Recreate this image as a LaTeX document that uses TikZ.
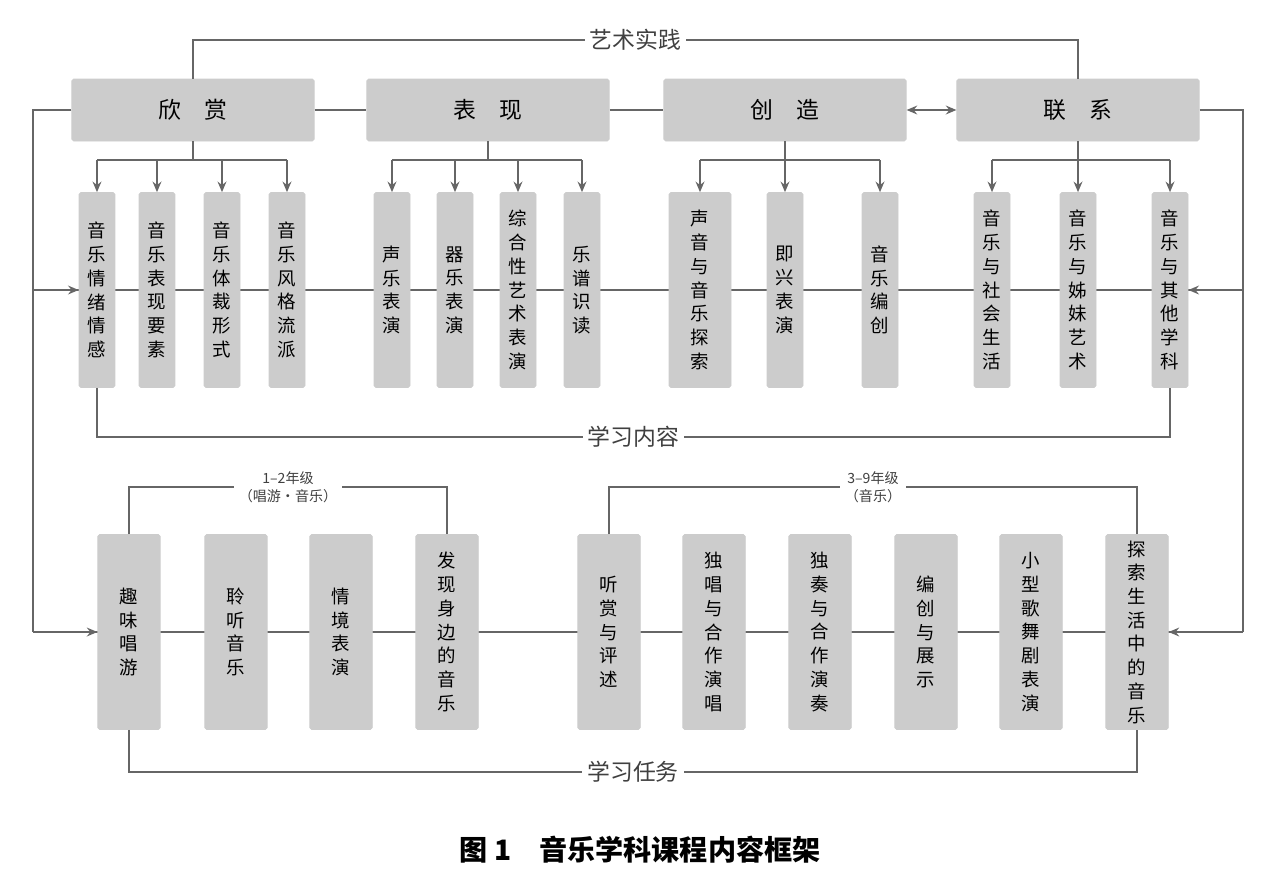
\documentclass[tikz,border=0pt]{standalone}
\usepackage{fontspec}
\setmainfont{Noto Sans CJK SC}
\usetikzlibrary{arrows.meta}
\begin{document}
\begin{tikzpicture}[x=0.02cm,y=-0.02cm,
  box/.style={fill=gray!40, draw=gray!40, rounded corners=1pt, align=center, inner sep=0pt, font=\fontsize{10.5}{13.5}\selectfont},
  head/.style={box, minimum width=4.85cm, minimum height=1.24cm, font=\fontsize{13}{15}\selectfont},
  item/.style={box, minimum width=0.72cm, minimum height=3.9cm},
  task/.style={box, minimum width=1.25cm, minimum height=3.9cm},
  ln/.style={draw=gray!80!black, line width=1.1pt},
  arr/.style={ln, -{Stealth[length=6pt,width=5pt]}},
  lbl/.style={fill=white, inner sep=3pt, font=\fontsize{13}{15}\selectfont, text=gray!50!black}]
\useasboundingbox (0,0) rectangle (1280,880);
% background lines through the rows
\draw[ln] (33,290) -- (1243,290);
\draw[ln] (33,632) -- (1243,632);
% top row
\node[head] (xs) at (193,110) {欣\quad 赏};
\node[head] (bx) at (488,110) {表\quad 现};
\node[head] (cz) at (785,110) {创\quad 造};
\node[head] (lx) at (1078,110) {联\quad 系};
\draw[ln] (xs) -- (bx) -- (cz);
\draw[ln, {Stealth[length=6pt,width=5pt]}-{Stealth[length=6pt,width=5pt]}] (cz) -- (lx);
\draw[ln] (xs.north) -- (193,40) -- node[lbl]{艺术实践} (1078,40) -- (lx.north);
% content row
\foreach \n/\x/\t in {a1/97/音\\乐\\情\\绪\\情\\感, a2/157/音\\乐\\表\\现\\要\\素, a3/222/音\\乐\\体\\裁\\形\\式, a4/287/音\\乐\\风\\格\\流\\派,
  b1/392/声\\乐\\表\\演, b2/455/器\\乐\\表\\演, b3/518/综\\合\\性\\艺\\术\\表\\演, b4/582/乐\\谱\\识\\读,
  c3/880/音\\乐\\编\\创, d1/992/音\\乐\\与\\社\\会\\生\\活, d2/1078/音\\乐\\与\\姊\\妹\\艺\\术, d3/1170/音\\乐\\与\\其\\他\\学\\科}
  \node[item] (\n) at (\x,290) {\t};
\node[item, minimum width=1.24cm] (c1) at (700,290) {声\\音\\与\\音\\乐\\探\\索};
\node[item] (c2) at (785,290) {即\\兴\\表\\演};
\foreach \p/\l/\r/\k in {xs/97/287/{a1,a2,a3,a4}, bx/392/582/{b1,b2,b3,b4}, cz/700/880/{c1,c2,c3}, lx/992/1170/{d1,d2,d3}}{
  \draw[ln] (\p.south) -- (\p.south |- 0,160);
  \draw[ln] (\l,160) -- (\r,160);
  \foreach \c in \k {\draw[arr] (\c.north |- 0,160) -- (\c.north);}
}
\draw[ln] (a1) -- (97,437) -- node[lbl]{学习内容} (1170,437) -- (d3);
% task row
\foreach \n/\x/\t in {t1/129/趣\\味\\唱\\游, t2/236/聆\\听\\音\\乐, t3/341/情\\境\\表\\演, t4/447/发\\现\\身\\边\\的\\音\\乐,
  u1/609/听\\赏\\与\\评\\述, u2/714/独\\唱\\与\\合\\作\\演\\唱, u3/820/独\\奏\\与\\合\\作\\演\\奏, u4/926/编\\创\\与\\展\\示,
  u5/1031/小\\型\\歌\\舞\\剧\\表\\演, u6/1137/探\\索\\生\\活\\中\\的\\音\\乐}
  \node[task] (\n) at (\x,632) {\t};
\draw[ln] (t1) -- (129,487) -- node[lbl, font=\fontsize{8}{10}\selectfont, align=center]{1--2年级\\（唱游·音乐）} (447,487) -- (t4);
\draw[ln] (u1) -- (609,487) -- node[lbl, font=\fontsize{8}{10}\selectfont, align=center]{3--9年级\\（音乐）} (1137,487) -- (u6);
\draw[ln] (t1) -- (129,772) -- node[lbl]{学习任务} (1137,772) -- (u6);
% feedback loops
\draw[ln] (xs.west) -- (33,110) -- (33,632);
\draw[arr] (33,290) -- (a1.west);
\draw[arr] (33,632) -- (t1.west);
\draw[ln] (lx.east) -- (1243,110) -- (1243,632);
\draw[arr] (1243,290) -- (d3.east);
\draw[arr] (1243,632) -- (u6.east);
\node (cap) at (640,850) {\fontsize{16}{18}\selectfont\bfseries 图 1\quad 音乐学科课程内容框架};
\end{tikzpicture}
\end{document}
